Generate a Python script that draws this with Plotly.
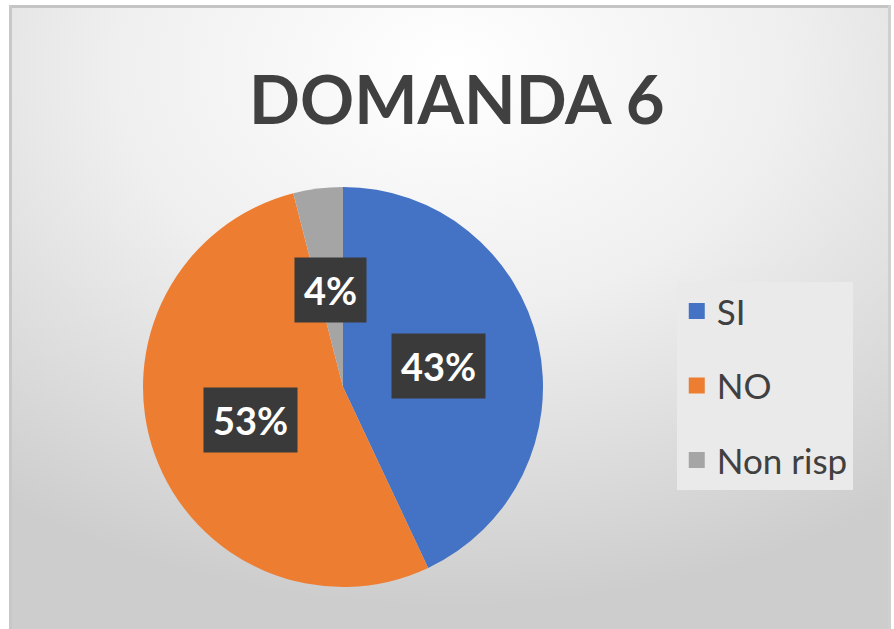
import base64, math
import plotly.graph_objects as go

categories = ["SI", "NO", "Non risp"]
values = [43, 53, 4]
colors = ["#4472C4", "#ED7D31", "#A5A5A5"]
title_text = "DOMANDA 6"

W, H = 894, 629

svg = f'''<svg xmlns="http://www.w3.org/2000/svg" width="{W}" height="{H}" viewBox="0 0 {W} {H}" preserveAspectRatio="none">
<defs><radialGradient id="g" cx="50%" cy="10%" r="85%" fx="50%" fy="10%">
<stop offset="0" stop-color="#FFFFFF"/><stop offset="0.45" stop-color="#EFEFEF"/><stop offset="1" stop-color="#CDCDCD"/>
</radialGradient></defs>
<rect x="0" y="0" width="{W}" height="{H}" fill="#FFFFFF"/>
<rect x="9" y="5" width="{W-12}" height="{H+5}" fill="url(#g)"/>
<rect x="9" y="5" width="{W-12}" height="3" fill="#C4C4C4"/>
<rect x="9" y="5" width="3" height="{H+5}" fill="#C8C8C8"/>
<rect x="{W-6}" y="5" width="3" height="{H+5}" fill="#D0D0D0"/>
</svg>'''
bg_uri = "data:image/svg+xml;base64," + base64.b64encode(svg.encode()).decode()

# pie geometry (paper fractions)
cx_px, cy_px, R_px = 343, 387, 200
dom_x = [(cx_px - R_px) / W, (cx_px + R_px) / W]
dom_y = [1 - (cy_px + R_px) / H, 1 - (cy_px - R_px) / H]

fig = go.Figure()
fig.add_trace(go.Pie(
    labels=categories, values=values, sort=False, direction="clockwise", rotation=0,
    marker=dict(colors=colors, line=dict(width=0)),
    textinfo="none", hoverinfo="label+percent", showlegend=False,
    domain=dict(x=dom_x, y=dom_y),
))

# legend via dummy traces
for i, (c, col) in enumerate(zip(categories, colors)):
    fig.add_trace(go.Scatter(
        x=[None], y=[None], mode="markers", name=c, legendgroup=f"g{i}",
        marker=dict(symbol="square", size=20, color=col),
    ))

# percentage labels in dark boxes
total = sum(values)
cum = 0
for v in values:
    mid = (cum + v / 2) / total * 2 * math.pi
    cum += v
    r = 0.49 * R_px
    px = cx_px + r * math.sin(mid)
    py = cy_px - r * math.cos(mid)
    fig.add_annotation(
        x=px / W, y=1 - py / H, xref="paper", yref="paper",
        xanchor="center", yanchor="middle",
        text=f"<b>{round(v / total * 100)}%</b>", showarrow=False,
        font=dict(family="Lato", size=38, color="#FFFFFF"),
        bgcolor="#3A3A3A", borderpad=9,
    )

fig.update_layout(
    width=W, height=H,
    margin=dict(l=0, r=0, t=0, b=0),
    paper_bgcolor="#D2D2D2", plot_bgcolor="rgba(0,0,0,0)",
    xaxis=dict(visible=False), yaxis=dict(visible=False),
    title=dict(text=f"<b>{title_text}</b>", x=0.511, xanchor="center", y=0.84, yanchor="middle",
               font=dict(family="Lato", size=67, color="#404040")),
    legend=dict(x=0.757, y=0.552, xanchor="left", yanchor="top",
                bgcolor="#EAEAEA", font=dict(family="Lato", size=35, color="#404040"),
                tracegroupgap=26, itemsizing="trace"),
    images=[dict(source=bg_uri, xref="paper", yref="paper", x=0, y=1, sizex=1, sizey=1,
                 sizing="stretch", layer="below", xanchor="left", yanchor="top")],
)

fig.write_html("out.html", config={"displayModeBar": False},
               post_script="document.body.style.margin='0';")
